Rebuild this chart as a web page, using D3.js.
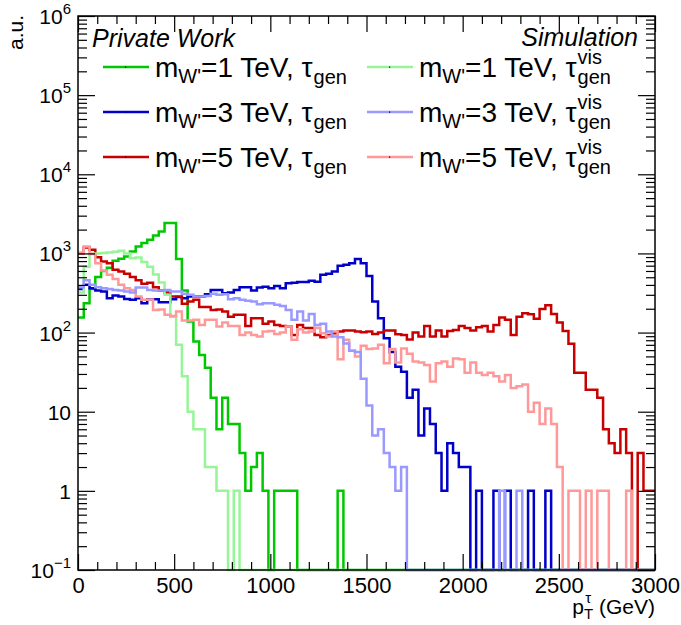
<!DOCTYPE html>
<meta charset="utf-8">
<style>
body { margin: 0; background: #fff; }
text { font-family: "Liberation Sans", Arial, sans-serif; fill: #000; }
</style>
<svg width="681" height="625"></svg>
<script src="https://d3js.org/d3.v7.min.js"></script>
<script>

// p_T^tau histograms, 100 bins of 30 GeV from 0 to 3000
var binWidth = 30;

var gen1 = [155, 235, 354, 502, 600, 660, 806, 856, 915, 1057,
  1223, 1350, 1486, 1685, 1893, 2415, 2415, 850, 340, 138,
  77, 52, 36, 15, 6, 15, 7, 7, 3, 1,
  2, 3, 1, 0, 1, 1, 1, 1, 0, 0,
  0, 0, 0, 0, 0, 1, 0, 0, 0, 0,
  0, 0, 0, 0, 0, 0, 0, 0, 0, 0,
  0, 0, 0, 0, 0, 0, 0, 0, 0, 0,
  0, 0, 0, 0, 0, 0, 0, 0, 0, 0,
  0, 0, 0, 0, 0, 0, 0, 0, 0, 0,
  0, 0, 0, 0, 0, 0, 0, 0, 0, 0];

var vis1 = [320, 680, 990, 1000, 1010, 1030, 1050, 1080, 1000, 870,
  890, 780, 680, 540, 430, 300, 159, 70, 28, 10,
  6, 6, 2, 2, 1, 1, 0, 1, 0, 0,
  0, 0, 0, 0, 0, 0, 0, 0, 0, 0,
  0, 0, 0, 0, 0, 0, 0, 0, 0, 0,
  0, 0, 0, 0, 0, 0, 0, 0, 0, 0,
  0, 0, 0, 0, 0, 0, 0, 0, 0, 0,
  0, 0, 0, 0, 0, 0, 0, 0, 0, 0,
  0, 0, 0, 0, 0, 0, 0, 0, 0, 0,
  0, 0, 0, 0, 0, 0, 0, 0, 0, 0];

var gen3 = [354, 401, 364, 340, 330, 272, 293, 285, 266, 259,
  272, 235, 264, 264, 242, 242, 264, 281, 272, 285,
  285, 285, 306, 346, 346, 315, 320, 346, 373, 373,
  340, 370, 379, 364, 387, 364, 419, 426, 434, 434,
  451, 438, 537, 553, 591, 697, 718, 753, 848, 753,
  520, 247, 152, 85, 57, 37, 32, 15, 19, 5,
  11, 7, 3, 1, 4, 3, 2, 2, 0, 1,
  0, 0, 1, 0, 1, 0, 0, 0, 1, 0,
  0, 1, 0, 0, 0, 0, 0, 0, 0, 0,
  0, 0, 0, 0, 0, 0, 0, 0, 0, 0];

var vis3 = [373, 457, 401, 373, 364, 354, 346, 340, 330, 320,
  370, 370, 346, 340, 340, 346, 330, 330, 309, 300,
  285, 285, 290, 309, 300, 306, 264, 272, 259, 252,
  247, 228, 235, 235, 224, 217, 193, 145, 185, 142,
  172, 125, 129, 103, 89, 87, 73, 59, 57, 26,
  12, 5, 6, 3, 2, 1, 2, 0, 0, 0,
  0, 0, 0, 0, 0, 0, 0, 0, 0, 0,
  0, 0, 0, 1, 0, 0, 1, 0, 0, 0,
  0, 0, 0, 0, 0, 0, 0, 0, 0, 0,
  0, 0, 0, 0, 0, 0, 0, 0, 0, 0];

var gen5 = [1008, 1187, 1110, 898, 790, 753, 620, 591, 553, 502,
  457, 415, 426, 373, 340, 320, 285, 285, 231, 247,
  259, 210, 210, 193, 196, 185, 159, 168, 168, 121,
  152, 152, 129, 138, 125, 121, 119, 93, 125, 114,
  114, 93, 87, 93, 98, 103, 106, 106, 103, 101,
  103, 96, 100, 106, 106, 95, 93, 82, 100, 89,
  121, 89, 106, 89, 105, 108, 121, 114, 106, 117,
  121, 103, 125, 155, 145, 93, 159, 176, 171, 149,
  198, 222, 172, 134, 105, 72, 31, 31, 19, 19,
  15, 6, 4, 3, 6, 3, 0, 3, 1, 1];

var vis5 = [1027, 1223, 980, 753, 608, 537, 474, 401, 364, 346,
  285, 259, 262, 193, 196, 168, 162, 185, 142, 142,
  145, 125, 145, 145, 119, 134, 121, 121, 93, 100,
  93, 89, 103, 105, 96, 100, 119, 81, 110, 100,
  103, 114, 98, 89, 103, 46, 81, 59, 50, 68,
  62, 63, 70, 41, 62, 42, 63, 54, 43, 42,
  39, 24, 41, 43, 37, 47, 46, 31, 42, 31,
  29, 31, 28, 24, 29, 20, 21, 22, 10, 13,
  7, 11, 7, 2, 0, 1, 1, 0, 1, 0,
  1, 1, 0, 0, 0, 1, 0, 0, 0, 0];

var masses = ["1", "3", "5"];
var xTicks = [0, 500, 1000, 1500, 2000, 2500, 3000];
var yTicks = [0.1, 1, 10, 100, 1000, 1e4, 1e5, 1e6];
var yTickLabels = [["10", "\u22121"], ["1", ""], ["10", ""], ["10", "2"], ["10", "3"], ["10", "4"], ["10", "5"], ["10", "6"]];

var series = [
  {values: gen1, color: "#00c800", vis: false, mass: 0},
  {values: gen3, color: "#0000c8", vis: false, mass: 1},
  {values: gen5, color: "#c80000", vis: false, mass: 2},
  {values: vis1, color: "#96f596", vis: true, mass: 0},
  {values: vis5, color: "#ff9999", vis: true, mass: 2},
  {values: vis3, color: "#9999ff", vis: true, mass: 1}
];

var svg = d3.select("svg");
var x0 = 78, x1 = 655, y0 = 570, y1 = 16;

var x = d3.scaleLinear().domain([0, 3000]).range([x0, x1]);
var y = d3.scaleLog().domain([0.1, 1e6]).range([y0, y1]);

var line = d3.line()
    .x(function(d) { return x(d[0]); })
    .y(function(d) { return y(Math.max(d[1], 0.1)); })
    .curve(d3.curveStepAfter);

svg.append("g")
  .selectAll("path")
  .data(series)
  .enter().append("path")
    .attr("fill", "none")
    .attr("stroke", function(d) { return d.color; })
    .attr("stroke-width", 2.5)
    .attr("d", function(d) {
      var pts = d.values.map(function(v, i) { return [i * binWidth, v]; });
      pts.push([3000, d.values[d.values.length - 1]]);
      return line(pts);
    });

// frame
svg.append("rect")
    .attr("x", x0).attr("y", y1)
    .attr("width", x1 - x0).attr("height", y0 - y1)
    .attr("fill", "none").attr("stroke", "#000").attr("stroke-width", 1.5);

// minor tick values
var yMinor = [];
for (var e = -1; e < 6; e++) {
  for (var k = 2; k <= 9; k++) yMinor.push(k * Math.pow(10, e));
}
var xMinor = d3.range(0, 3001, 100).filter(function(v) { return v % 500 !== 0; });

function styleAxis(g) {
  g.select(".domain").remove();
  g.selectAll("line").attr("stroke", "#000").attr("stroke-width", 1.2);
}

svg.append("g").attr("transform", "translate(" + x0 + ",0)")
    .call(d3.axisLeft(y).tickValues(yTicks).tickSize(-17).tickFormat(""))
    .call(styleAxis);
svg.append("g").attr("transform", "translate(" + x0 + ",0)")
    .call(d3.axisLeft(y).tickValues(yMinor).tickSize(-9).tickFormat(""))
    .call(styleAxis);
svg.append("g").attr("transform", "translate(" + x1 + ",0)")
    .call(d3.axisRight(y).tickValues(yTicks).tickSize(-17).tickFormat(""))
    .call(styleAxis);
svg.append("g").attr("transform", "translate(" + x1 + ",0)")
    .call(d3.axisRight(y).tickValues(yMinor).tickSize(-9).tickFormat(""))
    .call(styleAxis);

svg.append("g").attr("transform", "translate(0," + y0 + ")")
    .call(d3.axisBottom(x).tickValues(xTicks).tickSize(-16).tickFormat(d3.format("d")))
    .call(styleAxis)
    .selectAll(".tick text")
      .attr("y", 7)
      .attr("fill", "#000")
      .style("font-size", "22px")
      .style("font-family", "Liberation Sans, Arial, sans-serif");
svg.append("g").attr("transform", "translate(0," + y0 + ")")
    .call(d3.axisBottom(x).tickValues(xMinor).tickSize(-8).tickFormat(""))
    .call(styleAxis);
svg.append("g").attr("transform", "translate(0," + y1 + ")")
    .call(d3.axisTop(x).tickValues(xTicks).tickSize(-16).tickFormat(""))
    .call(styleAxis);
svg.append("g").attr("transform", "translate(0," + y1 + ")")
    .call(d3.axisTop(x).tickValues(xMinor).tickSize(-8).tickFormat(""))
    .call(styleAxis);

// y tick labels with exponents
var yl = svg.append("g").selectAll("text")
  .data(yTicks)
  .enter().append("text")
    .attr("x", x0 - 7)
    .attr("y", function(d) { return y(d) + 8; })
    .attr("text-anchor", "end")
    .style("font-size", "21px");
yl.append("tspan").text(function(d, i) { return yTickLabels[i][0]; });
yl.append("tspan")
    .attr("dy", -10)
    .style("font-size", "15px")
    .text(function(d, i) { return yTickLabels[i][1]; });

// axis titles
svg.append("text")
    .attr("transform", "translate(23," + (y1 - 1) + ") rotate(-90)")
    .attr("text-anchor", "end")
    .style("font-size", "21px")
    .text("a.u.");

var xt = svg.append("text")
    .attr("x", x1).attr("y", 614)
    .attr("text-anchor", "end")
    .style("font-size", "21px");
xt.append("tspan").text("p");
xt.append("tspan").attr("dy", 5).style("font-size", "15px").text("T");
xt.append("tspan").attr("dx", -8).attr("dy", -16).style("font-size", "15px").text("\u03c4");
xt.append("tspan").attr("dx", 2).attr("dy", 11).text(" (GeV)");

// labels
svg.append("text")
    .attr("x", 92).attr("y", 47)
    .style("font-size", "25px").style("font-style", "italic")
    .text("Private Work");
svg.append("text")
    .attr("x", 638).attr("y", 46)
    .attr("text-anchor", "end")
    .style("font-size", "25px").style("font-style", "italic")
    .text("Simulation");

// legend
var rowY = [67, 112, 157];
var colX = [103, 367];
var leg = svg.append("g");
series.forEach(function(s) {
  var cx = colX[s.vis ? 1 : 0], cy = rowY[s.mass];
  leg.append("line")
      .attr("x1", cx).attr("x2", cx + 46)
      .attr("y1", cy).attr("y2", cy)
      .attr("stroke", s.color).attr("stroke-width", 2.5);
  leg.append("rect")
      .attr("x", cx + 22).attr("y", cy - 0.5).attr("width", 1.2).attr("height", 1.2)
      .attr("fill", "#000");
  var tx = cx + 52, by = cy + 10;
  var t = leg.append("text").attr("x", tx).attr("y", by).style("font-size", "28px");
  t.append("tspan").text("m");
  t.append("tspan").attr("dy", 6).style("font-size", "20px").text("W'");
  t.append("tspan").attr("dy", -6).text("=" + masses[s.mass] + " TeV, \u03c4");
  var w = t.node().getComputedTextLength();
  leg.append("text").attr("x", tx + w + 1).attr("y", by + 7)
      .style("font-size", "20px").text("gen");
  if (s.vis) {
    leg.append("text").attr("x", tx + w + 1).attr("y", by - 13)
        .style("font-size", "20px").text("vis");
  }
});

</script>
